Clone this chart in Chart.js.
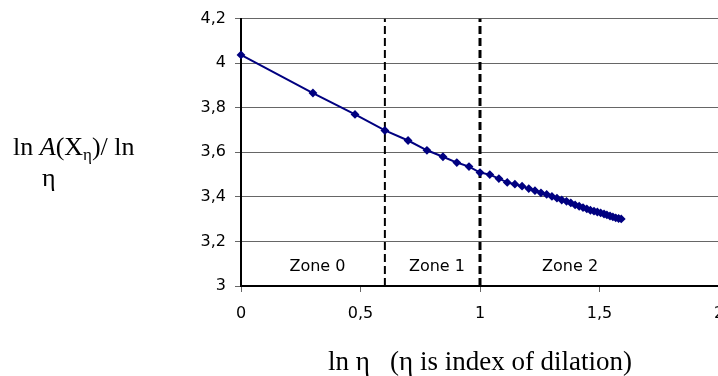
<!DOCTYPE html>
<html>
<head>
<meta charset="utf-8">
<script src="https://cdn.jsdelivr.net/npm/chart.js@4.4.0/dist/chart.umd.min.js"></script>
<style>
  html, body { margin: 0; padding: 0; background: #fff; overflow: hidden; width: 718px; height: 376px; }
  #wrap { position: relative; width: 740px; height: 376px; }
  .ytitle { position: absolute; font-family: 'Liberation Serif', 'Times New Roman', serif; font-size: 26px; line-height: 30px; color: #000; white-space: nowrap; }
  .ytitle sub { font-size: 17px; vertical-align: -5px; line-height: 0; }
</style>
</head>
<body>
<div id="wrap">
  <canvas id="chart" width="740" height="376"></canvas>
  <div class="ytitle" style="left:13px; top:132px;">ln <i>A</i>(X<sub>η</sub>)/ ln</div>
  <div class="ytitle" style="left:42px; top:163px;">η</div>
</div>
<script>
// ln η (log of dilation index)
const lnEta = [0, 0.301, 0.477, 0.602, 0.699, 0.778, 0.845, 0.903, 0.954, 1.0,
  1.041, 1.079, 1.114, 1.146, 1.176, 1.204, 1.230, 1.255, 1.279, 1.301,
  1.322, 1.342, 1.362, 1.380, 1.398, 1.415, 1.431, 1.447, 1.462, 1.477,
  1.491, 1.505, 1.519, 1.531, 1.544, 1.556, 1.568, 1.580, 1.591];

// ln A(X_η) / ln η
const ratio = [4.037, 3.866, 3.770, 3.698, 3.653, 3.609, 3.580, 3.554, 3.536, 3.509,
  3.500, 3.482, 3.465, 3.457, 3.448, 3.437, 3.428, 3.418, 3.411, 3.402,
  3.394, 3.386, 3.380, 3.373, 3.364, 3.358, 3.352, 3.346, 3.340, 3.336,
  3.332, 3.328, 3.323, 3.319, 3.314, 3.310, 3.306, 3.303, 3.301];

const zoneBounds = [0.602, 1];
const zoneLabels = ['Zone 0', 'Zone 1', 'Zone 2'];
const zoneLabelX = [0.32, 0.82, 1.377];
const zoneLabelY = 3.085;

const xRange = [0, 2];
const yRange = [3, 4.2];

const sansFont = '"DejaVu Sans", Arial, sans-serif';
const comma = v => String(Math.round(v * 10) / 10).replace('.', ',');

// write the zone names inside the plot
const zoneText = {
  id: 'zoneText',
  afterDatasetsDraw(chart) {
    const ctx = chart.ctx, xs = chart.scales.x, ys = chart.scales.y;
    ctx.save();
    ctx.font = '16px ' + sansFont;
    ctx.fillStyle = '#000';
    ctx.textAlign = 'center';
    ctx.textBaseline = 'middle';
    zoneLabels.forEach((t, i) => {
      ctx.fillText(t, xs.getPixelForValue(zoneLabelX[i]), ys.getPixelForValue(zoneLabelY));
    });
    ctx.restore();
  }
};

const boundarySets = zoneBounds.map((b, i) => ({
  data: [{ x: b, y: yRange[0] }, { x: b, y: yRange[1] }],
  showLine: true,
  borderColor: '#000',
  borderWidth: i === 0 ? 2 : 3,
  borderDash: [8, 4],
  pointRadius: 0
}));

new Chart(document.getElementById('chart'), {
  type: 'scatter',
  data: {
    datasets: [
      {
        data: lnEta.map((x, i) => ({ x, y: ratio[i] })),
        showLine: true,
        borderColor: '#000080',
        backgroundColor: '#000080',
        borderWidth: 2,
        pointStyle: 'rectRot',
        pointRadius: 3,
        pointHoverRadius: 3,
        clip: false
      },
      ...boundarySets
    ]
  },
  options: {
    responsive: false,
    animation: false,
    layout: { padding: { top: 18, right: 21, left: 0, bottom: 0 } },
    plugins: { legend: { display: false }, tooltip: { enabled: false } },
    scales: {
      x: {
        type: 'linear',
        min: xRange[0],
        max: xRange[1],
        afterFit: s => { s.height = 90; },
        border: { color: '#000', width: 2 },
        grid: { drawOnChartArea: false, drawTicks: true, tickLength: 6, color: '#666' },
        ticks: {
          stepSize: 0.5,
          padding: 12,
          color: '#000',
          font: { family: sansFont, size: 16 },
          callback: comma
        },
        title: {
          display: true,
          text: 'ln η   (η is index of dilation)',
          color: '#000',
          font: { family: '"Liberation Serif", "Times New Roman", serif', size: 27, lineHeight: 1 },
          padding: { top: 0, bottom: 0 }
        }
      },
      y: {
        type: 'linear',
        min: yRange[0],
        max: yRange[1],
        afterFit: s => { s.width = 241; },
        border: { color: '#000', width: 2 },
        grid: { color: '#666', lineWidth: 1, drawTicks: true, tickLength: 6 },
        ticks: {
          stepSize: 0.2,
          padding: 9,
          color: '#000',
          font: { family: sansFont, size: 16 },
          callback: comma
        }
      }
    }
  },
  plugins: [zoneText]
});
</script>
</body>
</html>
